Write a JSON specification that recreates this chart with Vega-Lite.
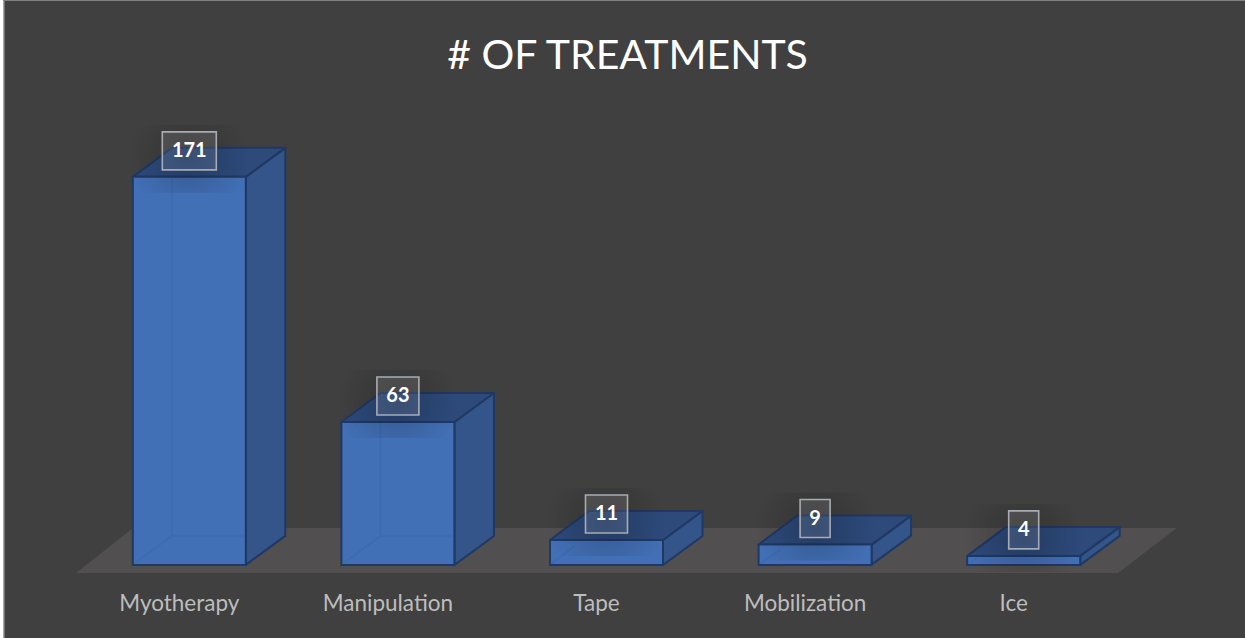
{
"$schema":"https://vega.github.io/schema/vega-lite/v6.json",
"width":1043,"height":454,
"autosize":{"type":"none"},
"padding":{"left":85,"top":111,"right":117,"bottom":73},
"background":"#404040",
"view":{"stroke":null},
"title":{"text":"# OF TREATMENTS","font":"Lato","fontSize":41,"fontWeight":"normal","color":"#FFFFFF","anchor":"middle","dx":21,"offset":-78},
"data":{"values":[
{"treatment":"Myotherapy","count":171},
{"treatment":"Manipulation","count":63},
{"treatment":"Tape","count":11},
{"treatment":"Mobilization","count":9},
{"treatment":"Ice","count":4}]},
"encoding":{
"x":{"field":"treatment","type":"nominal","sort":null,"title":null,"scale":{"domain":["Myotherapy","Manipulation","Tape","Mobilization","Ice"],"paddingInner":0,"paddingOuter":0},
"axis":{"domain":false,"ticks":false,"grid":false,"labelAngle":0,"labelOffset":-10,"labelPadding":27,"labelFont":"Lato","labelFontSize":22.5,"labelColor":"#BDBDBD"}},
"y":{"field":"count","type":"quantitative","title":null,"scale":{"domain":[0,200]},"axis":null}
},
"resolve":{"scale":{"shape":"independent"}},
"layer":[
{"transform":[{"filter":"datum.treatment=='Tape'"}],
 "mark":{"type":"point","filled":true,"opacity":1,"size":4,"fill":"#FFFFFF","strokeWidth":0,
 "shape":"M-606.5 -565 L-603.5 -565 L-603.5 73 L-606.5 73 Z"},
 "encoding":{"y":{"datum":0}}},
{"transform":[{"filter":"datum.treatment=='Tape'"}],
 "mark":{"type":"point","filled":true,"opacity":1,"size":4,"fill":"#A6A6A6","strokeWidth":0,
 "shape":"M-603.5 -565 L-602 -565 L-602 73 L-603.5 73 Z"},
 "encoding":{"y":{"datum":0}}},
{"transform":[{"filter":"datum.treatment=='Tape'"}],
 "mark":{"type":"point","filled":true,"opacity":1,"size":4,"fill":"#808080","strokeWidth":0,
 "shape":"M-603.5 -565 L638.5 -565 L638.5 -564 L-603.5 -564 Z"},
 "encoding":{"y":{"datum":0}}},
{"transform":[{"filter":"datum.treatment=='Tape'"}],
 "mark":{"type":"point","filled":true,"opacity":1,"size":4,"fill":"#514F4F","strokeWidth":0,
 "shape":"M-530.5 8 L511.5 8 L570.5 -37 L-473.5 -37 Z"},
 "encoding":{"y":{"datum":0}}},
{"mark":{"type":"point","filled":true,"opacity":1,"size":4,"fill":"#33558A","stroke":"#203864","strokeWidth":2,"strokeJoin":"round"},
 "encoding":{"shape":{"field":"treatment","type":"nominal","legend":null,
 "scale":{"domain":["Myotherapy","Manipulation","Tape","Mobilization","Ice"],
 "range":["M56.5 0 L96 -29 L96 359 L56.5 388 Z","M56.5 0 L96 -29 L96 114 L56.5 143 Z","M56.5 0 L96 -29 L96 -4 L56.5 25 Z","M56.5 0 L96 -29 L96 -9 L56.5 20 Z","M56.5 0 L96 -29 L96 -20 L56.5 9 Z"]}}}},
{"mark":{"type":"point","filled":true,"opacity":1,"size":4,"fill":"#2D4A7B","stroke":"#203864","strokeWidth":2,"strokeJoin":"round",
 "shape":"M-56.5 0 L-17.5 -29 L96 -29 L56.5 0 Z"}},
{"mark":{"type":"bar","size":113,"fill":"#4270B6","stroke":"#203864","strokeWidth":2}},
{"mark":{"type":"point","filled":false,"opacity":0.5,"size":4,"stroke":"#3A66AC","strokeWidth":1.5},
 "encoding":{"y":{"datum":0},"shape":{"field":"treatment","type":"nominal","legend":null,
 "scale":{"domain":["Myotherapy","Manipulation","Tape","Mobilization","Ice"],
 "range":["M-55.5 -1 L-17.5 -29 L55.5 -29 M-17.5 -29 L-17.5 -387","M-55.5 -1 L-17.5 -29 L55.5 -29 M-17.5 -29 L-17.5 -142","M-55.5 -1 L-32 -19","M-55.5 -1 L-35 -15","M-55.5 -1 L-47 -7"]}}}},
{"mark":{"type":"point","filled":true,"opacity":1,"size":4,"strokeWidth":0,
 "fill":{"gradient":"radial","x1":0.5,"y1":0.5,"r1":0,"x2":0.5,"y2":0.5,"r2":0.5,"stops":[{"offset":0,"color":"rgba(0,0,0,0.2)"},{"offset":1,"color":"rgba(0,0,0,0)"}]},
 "shape":"M-60 -52 L60 -52 L60 16 L-60 16 Z"}},
{"mark":{"type":"point","filled":true,"opacity":1,"size":4,"fill":"#FFFFFF","fillOpacity":0.1,"stroke":"#A8ACB2","strokeWidth":1.6},
 "encoding":{"shape":{"field":"treatment","type":"nominal","legend":null,
 "scale":{"domain":["Myotherapy","Manipulation","Tape","Mobilization","Ice"],
 "range":["M-27 -45 L27 -45 L27 -7 L-27 -7 Z","M-21 -45 L21 -45 L21 -7 L-21 -7 Z","M-21 -45 L21 -45 L21 -7 L-21 -7 Z","M-15 -45 L15 -45 L15 -7 L-15 -7 Z","M-15 -45 L15 -45 L15 -7 L-15 -7 Z"]}}}},
{"mark":{"type":"text","font":"Lato","fontSize":20,"fontWeight":"bold","color":"#FFFFFF","dy":-26,"align":"center","baseline":"middle"},
 "encoding":{"text":{"field":"count","type":"quantitative"}}}
]
}
